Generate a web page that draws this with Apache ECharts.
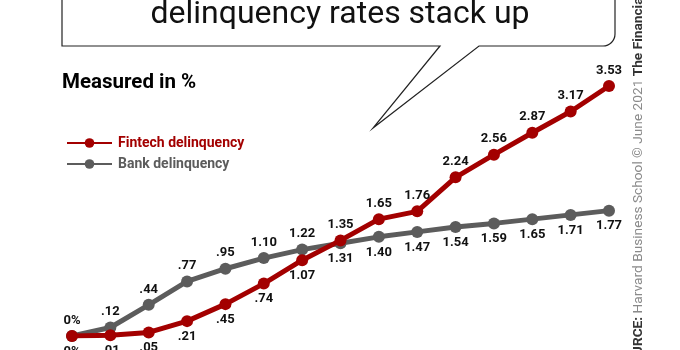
<!DOCTYPE html>
<html>
<head>
<meta charset="utf-8">
<script src="https://cdn.jsdelivr.net/npm/echarts@6/dist/echarts.min.js"></script>
<style>
html,body{margin:0;padding:0;background:#fff;}
#chart{width:680px;height:350px;}
</style>
</head>
<body>
<div id="chart"></div>
<script>
var periods = ['1','2','3','4','5','6','7','8','9','10','11','12','13','14','15'];
var fintech = [0, 0.01, 0.05, 0.21, 0.45, 0.74, 1.07, 1.35, 1.65, 1.76, 2.24, 2.56, 2.87, 3.17, 3.53];
var bank    = [0, 0.12, 0.44, 0.77, 0.95, 1.10, 1.22, 1.31, 1.40, 1.47, 1.54, 1.59, 1.65, 1.71, 1.77];
var seriesNames = ['Fintech delinquency', 'Bank delinquency'];
var titleText = 'delinquency rates stack up';
var subtitleText = 'Measured in %';

var RED = '#a30000', GRAY = '#5c5c5c';
var FONT = 'Roboto, "Liberation Sans", Arial, sans-serif';

function fmt(v){ return v === 0 ? '0%' : v.toFixed(2).replace(/^0/, ''); }

var finData = fintech.map(function(v,i){
  return {value:v, label:{position: v > bank[i] ? 'top' : 'bottom'}};
});
var bankData = bank.map(function(v,i){
  return {value:v, label:{position: fintech[i] > v ? 'bottom' : 'top'}};
});

var labelCommon = {
  show:true, distance:3, color:'#111', fontFamily:FONT, fontWeight:'bold', fontSize:13,
  formatter:function(p){ return fmt(p.value); }
};

var chart = echarts.init(document.getElementById('chart'), null, {renderer:'canvas'});
chart.setOption({
  animation:false,
  backgroundColor:'#fff',
  grid:{left:72, right:71, top:52.7, bottom:14, containLabel:false},
  xAxis:{type:'category', data:periods, boundaryGap:false, show:false},
  yAxis:{type:'value', min:0, max:4, show:false},
  legend:{
    orient:'vertical', left:61, top:131, itemWidth:45, itemHeight:12, itemGap:7,
    textStyle:{fontFamily:FONT, fontWeight:'bold', fontSize:14, padding:[0,0,0,1]},
    data:[{name:seriesNames[0], textStyle:{color:RED}}, {name:seriesNames[1], textStyle:{color:GRAY}}]
  },
  series:[
    {name:seriesNames[1], type:'line', data:bankData, symbol:'circle', symbolSize:12,
     lineStyle:{width:5, color:GRAY}, itemStyle:{color:GRAY}, label:labelCommon, z:2},
    {name:seriesNames[0], type:'line', data:finData, symbol:'circle', symbolSize:12,
     lineStyle:{width:5, color:RED}, itemStyle:{color:RED}, label:labelCommon, z:3}
  ],
  graphic:[
    {type:'polyline', shape:{points:[[62,-10],[62,46],[440,46],[373,128],[479,46],[603,46]]},
     style:{stroke:'#222', lineWidth:1.2, fill:null}},
    {type:'arc', shape:{cx:603, cy:34, r:12, startAngle:0, endAngle:Math.PI/2, clockwise:true},
     style:{stroke:'#222', lineWidth:1.2, fill:null}},
    {type:'line', shape:{x1:615, y1:34, x2:615, y2:-10}, style:{stroke:'#222', lineWidth:1.2}},
    {type:'text', x:340, y:15, style:{text:titleText, font:'32px ' + FONT, fill:'#111',
      textAlign:'center', textVerticalAlign:'middle'}},
    {type:'text', x:62, y:83, style:{text:subtitleText, font:'bold 20.5px ' + FONT, fill:'#000',
      textAlign:'left', textVerticalAlign:'middle'}},
    {type:'text', x:639, y:373, rotation:Math.PI/2,
     style:{text:'{b|SOURCE:} Harvard Business School © June 2021 {b|The Financial Brand}',
       fill:'#8a8a8a', fontSize:13.7, fontFamily:FONT, textAlign:'left', textVerticalAlign:'middle',
       rich:{b:{fontWeight:'bold', fill:'#333', fontSize:13.7, fontFamily:FONT}}}}
  ]
});
</script>
</body>
</html>
